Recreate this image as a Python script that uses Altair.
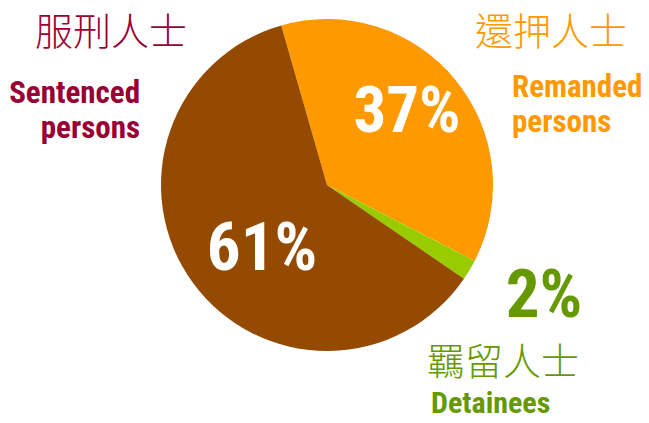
import math
import altair as alt
import pandas as pd

# ---- data ----
categories = ["Remanded persons", "Detainees", "Sentenced persons"]
categories_zh = ["還押人士", "羈留人士", "服刑人士"]
values = [37, 2, 61]
slice_colors = ["#FF9900", "#99CC00", "#944A00"]

# ---- layout ----
W, H = 633, 407
CX, CY, R = 319, 177, 166
START = math.radians(-16)

NARROW = "Roboto Condensed, Open Sans Condensed, Liberation Sans, sans-serif"
CJK = "Noto Sans CJK TC, Noto Sans CJK SC, sans-serif"

MAROON = "#990033"
ORANGE = "#FF9900"
GREEN = "#669900"

pie_df = pd.DataFrame({"category": categories, "value": values, "order": [0, 1, 2]})

pie = alt.Chart(pie_df).mark_arc(outerRadius=R).encode(
    x=alt.value(CX),
    y=alt.value(CY),
    theta=alt.Theta("value:Q", stack=True,
                    scale=alt.Scale(range=[START, START + 2 * math.pi])),
    color=alt.Color("category:N",
                    scale=alt.Scale(domain=categories, range=slice_colors),
                    legend=None),
    order=alt.Order("order:Q"),
)


def label(text, x, y, size, color, font, align="left", weight="bold", line_height=None):
    props = dict(font=font, fontSize=size, fontWeight=weight, color=color,
                 align=align, baseline="alphabetic", lineBreak="\n")
    if line_height is not None:
        props["lineHeight"] = line_height
    return alt.Chart(pd.DataFrame({"t": [text]})).mark_text(**props).encode(
        x=alt.value(x), y=alt.value(y), text="t:N"
    )


def two_lines(name):
    a, b = name.split(" ", 1)
    return a + "\n" + b


layers = [
    pie,
    # percentages
    label(f"{values[0]}%", 399, 124, 65, "white", NARROW, align="center"),
    label(f"{values[2]}%", 254, 262, 67, "white", NARROW, align="center"),
    label(f"{values[1]}%", 536, 309, 67, GREEN, NARROW, align="center"),
    # Chinese names
    label(categories_zh[2], 103, 37, 38, MAROON, CJK, align="center", weight=300),
    label(categories_zh[0], 543, 37, 38, ORANGE, CJK, align="center", weight=300),
    label(categories_zh[1], 495, 367, 38, GREEN, CJK, align="center", weight=300),
    # English names
    label(two_lines(categories[2]), 132, 95, 31, MAROON, NARROW, align="right", line_height=35),
    label(two_lines(categories[0]), 504, 89, 31, ORANGE, NARROW, align="left", line_height=35),
    label(categories[1], 423, 405, 30, GREEN, NARROW, align="left"),
]

chart = alt.layer(*layers).properties(
    width=W, height=H, padding=0, autosize="none", background="white"
).configure_view(stroke=None)

chart.save("out.html", embed_options={"renderer": "svg", "actions": False})
